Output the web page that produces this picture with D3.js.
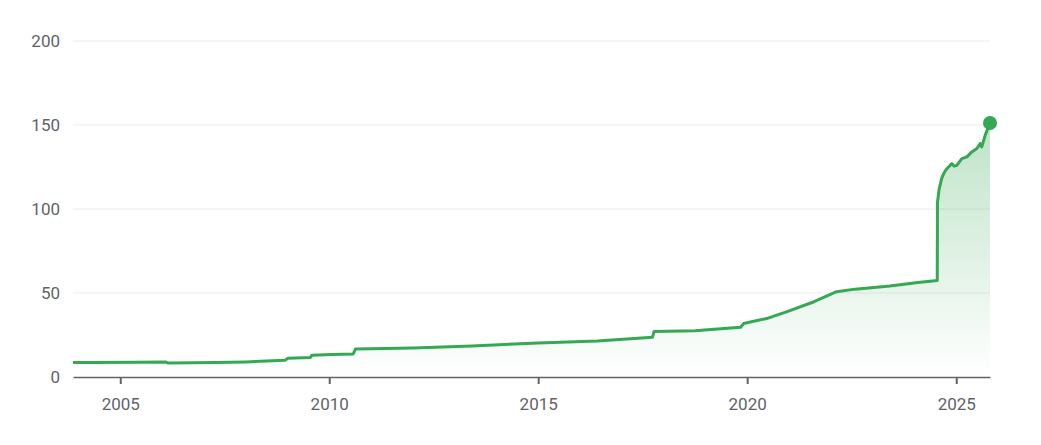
<!DOCTYPE html>
<html>
<head>
<meta charset="utf-8">
<script src="https://cdn.jsdelivr.net/npm/d3@7"></script>
<style>
	html, body { margin: 0; padding: 0; background: #fff; }
	svg text { font-family: Roboto, "Noto Sans", Arial, sans-serif; fill: #5f6368; }
	.grid line { stroke: #ececec; stroke-width: 1; }
</style>
</head>
<body>
<svg id="chart" width="1041" height="445"></svg>
<script>
// values
var dates = [
	"2003-11-15", "2004-06-01", "2005-06-01", "2006-02-05", "2006-02-25", "2007-04-20",
	"2008-01-01", "2008-12-10", "2009-01-05", "2009-07-20", "2009-08-01", "2010-01-20",
	"2010-07-30", "2010-08-18", "2012-01-01", "2013-06-01", "2015-01-01", "2016-06-01",
	"2017-09-25", "2017-10-10", "2018-10-01", "2019-11-05", "2019-12-01", "2020-07-01",
	"2020-12-15", "2021-08-08", "2022-02-20", "2022-08-01", "2023-06-01", "2024-02-01",
	"2024-07-19", "2024-07-21", "2024-08-05", "2024-08-28", "2024-09-20", "2024-10-11",
	"2024-11-23", "2024-12-15", "2025-01-06", "2025-02-19", "2025-04-04", "2025-05-17",
	"2025-06-30", "2025-07-29", "2025-08-12", "2025-09-11", "2025-10-23"
];
var prices = [
	8.6, 8.6, 8.8, 8.9, 8.3, 8.6,
	9.0, 9.9, 11.1, 11.6, 12.9, 13.4,
	13.7, 16.6, 17.3, 18.5, 20.2, 21.5,
	23.6, 27.1, 27.6, 29.6, 31.8, 35.0,
	38.9, 44.8, 50.8, 52.3, 54.2, 56.2,
	57.4, 104, 112, 118.5, 122, 124,
	127, 125.5, 126, 130, 131, 134,
	136, 139, 137, 144, 151.2
];
var yTicks = [0, 50, 100, 150, 200];
var xTickYears = [2005, 2010, 2015, 2020, 2025];

var svg = d3.select("#chart"),
	margin = {left: 73, right: 51, top: 41, bottom: 68},
	width = 1041 - margin.left - margin.right,
	height = 445 - margin.top - margin.bottom,
	green = "#34a853";

var parse = d3.timeParse("%Y-%m-%d");
var data = dates.map(function(d, i){ return {date: parse(d), value: prices[i]}; });

var x = d3.scaleTime()
	.domain([parse("2003-11-15"), parse("2025-10-23")])
	.range([0, width]);
var y = d3.scaleLinear()
	.domain([0, 200])
	.range([height, 0]);

var g = svg.append("g")
	.attr("transform", "translate(" + margin.left + "," + margin.top + ")");

var defs = svg.append("defs");
var grad = defs.append("linearGradient")
	.attr("id", "fade")
	.attr("gradientUnits", "userSpaceOnUse")
	.attr("x1", 0).attr("x2", 0)
	.attr("y1", y(151)).attr("y2", y(0));
grad.append("stop").attr("offset", "0%").attr("stop-color", green).attr("stop-opacity", 0.32);
grad.append("stop").attr("offset", "100%").attr("stop-color", green).attr("stop-opacity", 0);

// gridlines
g.append("g")
	.attr("class", "grid")
	.selectAll("line")
	.data(yTicks.slice(1))
	.enter()
	.append("line")
	.attr("x1", 0)
	.attr("x2", width)
	.attr("y1", function(d){ return y(d); })
	.attr("y2", function(d){ return y(d); });

// y labels
g.selectAll(".ylab")
	.data(yTicks)
	.enter()
	.append("text")
	.attr("class", "ylab")
	.attr("x", -13)
	.attr("y", function(d){ return y(d); })
	.attr("dy", "0.35em")
	.attr("text-anchor", "end")
	.style("font-size", "17px")
	.text(function(d){ return d; });

g.append("path")
	.datum(data)
	.attr("fill", "url(#fade)")
	.attr("d", d3.area()
		.x(function(d){ return x(d.date); })
		.y0(height)
		.y1(function(d){ return y(d.value); }));

g.append("path")
	.datum(data)
	.attr("fill", "none")
	.attr("stroke", green)
	.attr("stroke-width", 3)
	.attr("stroke-linejoin", "round")
	.attr("d", d3.line()
		.x(function(d){ return x(d.date); })
		.y(function(d){ return y(d.value); }));

// x axis
var xAxis = g.append("g")
	.attr("transform", "translate(0," + height + ")")
	.call(d3.axisBottom(x)
		.tickValues(xTickYears.map(function(yr){ return new Date(yr, 0, 1); }))
		.tickFormat(d3.timeFormat("%Y"))
		.tickSizeInner(7)
		.tickSizeOuter(0)
		.tickPadding(14));
xAxis.select(".domain").attr("stroke", "#5f6368").attr("stroke-width", 1.5);
xAxis.selectAll(".tick line").attr("stroke", "#5f6368").attr("stroke-width", 2);
xAxis.selectAll(".tick text")
	.attr("fill", "#5f6368")
	.style("font-size", "17px")
	.style("font-family", "Roboto, 'Noto Sans', Arial, sans-serif");

var last = data[data.length - 1];
g.append("circle")
	.attr("cx", x(last.date))
	.attr("cy", y(last.value))
	.attr("r", 7)
	.attr("fill", green);
</script>
</body>
</html>
